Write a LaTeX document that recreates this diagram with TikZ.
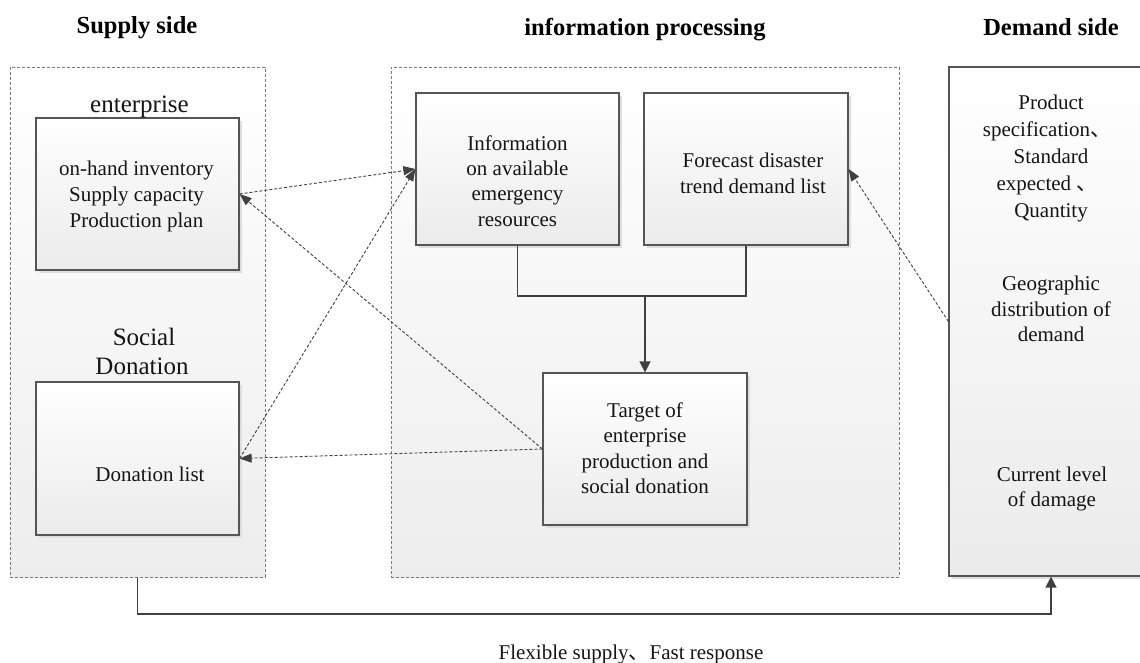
\documentclass[tikz,border=0pt]{standalone}
\usepackage{fontspec}
\setmainfont{Liberation Serif}
\newfontfamily\cjk{Noto Sans CJK SC}
\usetikzlibrary{arrows.meta,shadows}
\newcommand\dunhao{{\cjk 、}}

\definecolor{boxline}{HTML}{555555}
\definecolor{boxbot}{HTML}{EBEBEB}
\definecolor{contline}{HTML}{7A7A7A}
\definecolor{contbot}{HTML}{EDEDED}
\definecolor{arrowc}{HTML}{404040}
\definecolor{ink}{HTML}{151515}

\tikzset{
  txt/.style={font=\fontsize{21}{25.5}\selectfont, text=ink, anchor=base, inner sep=0pt},
  big/.style={font=\fontsize{25}{29}\selectfont, text=ink, anchor=base, inner sep=0pt},
  ttl/.style={font=\bfseries\fontsize{24.5}{28}\selectfont, text=black, anchor=base, inner sep=0pt},
  cont/.style={draw=contline, line width=0.9pt, dash pattern=on 3pt off 2pt,
    top color=white, bottom color=contbot, inner sep=0pt},
  box/.style={draw=boxline, line width=1.2pt, top color=white, bottom color=boxbot,
    inner sep=0pt, minimum width=203pt, minimum height=152pt,
    drop shadow={shadow xshift=2.5pt, shadow yshift=-2.5pt, fill=black!13, opacity=1}},
  dline/.style={draw=arrowc, line width=0.9pt, dash pattern=on 3pt off 2pt,
    -{Triangle[length=12pt,width=9pt]}},
  sline/.style={draw=arrowc, line width=1.4pt},
  stip/.style={-{Triangle[length=11pt,width=11pt]}},
}

\begin{document}
\begin{tikzpicture}[x=1pt, y=-1pt]
\useasboundingbox (0,0) rectangle (1140,662);
\clip (0,0) rectangle (1140,662);

% column frames
\node[cont, minimum width=255pt, minimum height=510pt] (sup) at (137.5,322) {};
\node[cont, minimum width=508pt, minimum height=510pt] (proc) at (645,322) {};

% boxes
\node[box] (ent) at (137.5,194) {};
\node[box, minimum height=153pt] (don) at (137.5,458.5) {};
\node[box] (info) at (517.5,169) {};
\node[box, minimum width=204pt] (fc) at (746,169) {};
\node[box, minimum width=204pt] (tgt) at (645,449) {};
\node[box, minimum width=204pt, minimum height=509pt] (dem) at (1051,321.5) {};

\coordinate (join) at (645,296);
\coordinate (bot) at (600,614);

% information flows
\draw[dline] (ent.east) -- (info.west);
\draw[dline] (don.east) -- (info.west);
\draw[dline] (tgt.west) -- (ent.east);
\draw[dline] (tgt.west) -- (don.east);
\draw[dline] (dem.west) -- (fc.east);
\draw[sline] (info.south) |- (join) -| (fc.south);
\draw[sline, stip] (join) -- (tgt.north);
\draw[sline, stip] (sup.south) |- (bot) -| (dem.south);

% column titles
\node[ttl] (t1) at (137,33) {Supply side};
\node[ttl] (t2) at (645,35) {information processing};
\node[ttl] (t3) at (1051,35) {Demand side};

% supply side texts
\node[big] (l1) at (139.5,112) {enterprise};
\node[txt] (e1) at (136.5,175) {on-hand inventory};
\node[txt] (e2) at (136.5,201) {Supply capacity};
\node[txt] (e3) at (136.5,227) {Production plan};
\node[big] (l2) at (144,345) {Social};
\node[big] (l3) at (142,374) {Donation};
\node[txt] (d1) at (150,481) {Donation list};

% processing texts
\node[txt] (i1) at (517.5,150) {Information};
\node[txt] (i2) at (517.5,175) {on available};
\node[txt] (i3) at (517.5,200) {emergency};
\node[txt] (i4) at (517.5,226) {resources};
\node[txt] (f1) at (753,167) {Forecast disaster};
\node[txt] (f2) at (753,193) {trend demand list};
\node[txt] (g1) at (645,417) {Target of};
\node[txt] (g2) at (645,442) {enterprise};
\node[txt] (g3) at (645,468) {production and};
\node[txt] (g4) at (645,493) {social donation};

% demand side texts
\node[txt] (p1) at (1051,109) {Product};
\node[txt] (p2) at (1047,136) {specification\dunhao};
\node[txt] (p3) at (1051,163) {Standard};
\node[txt] (p4) at (1047,190) {expected \dunhao};
\node[txt] (p5) at (1051,217) {Quantity};
\node[txt] (q1) at (1051,290) {Geographic};
\node[txt] (q2) at (1051,316) {distribution of};
\node[txt] (q3) at (1051,341) {demand};
\node[txt] (c1) at (1052,481) {Current level};
\node[txt] (c2) at (1052,506) {of damage};

% link label
\node[txt] (lab) at (631,659) {Flexible supply\dunhao Fast response};
\end{tikzpicture}
\end{document}
